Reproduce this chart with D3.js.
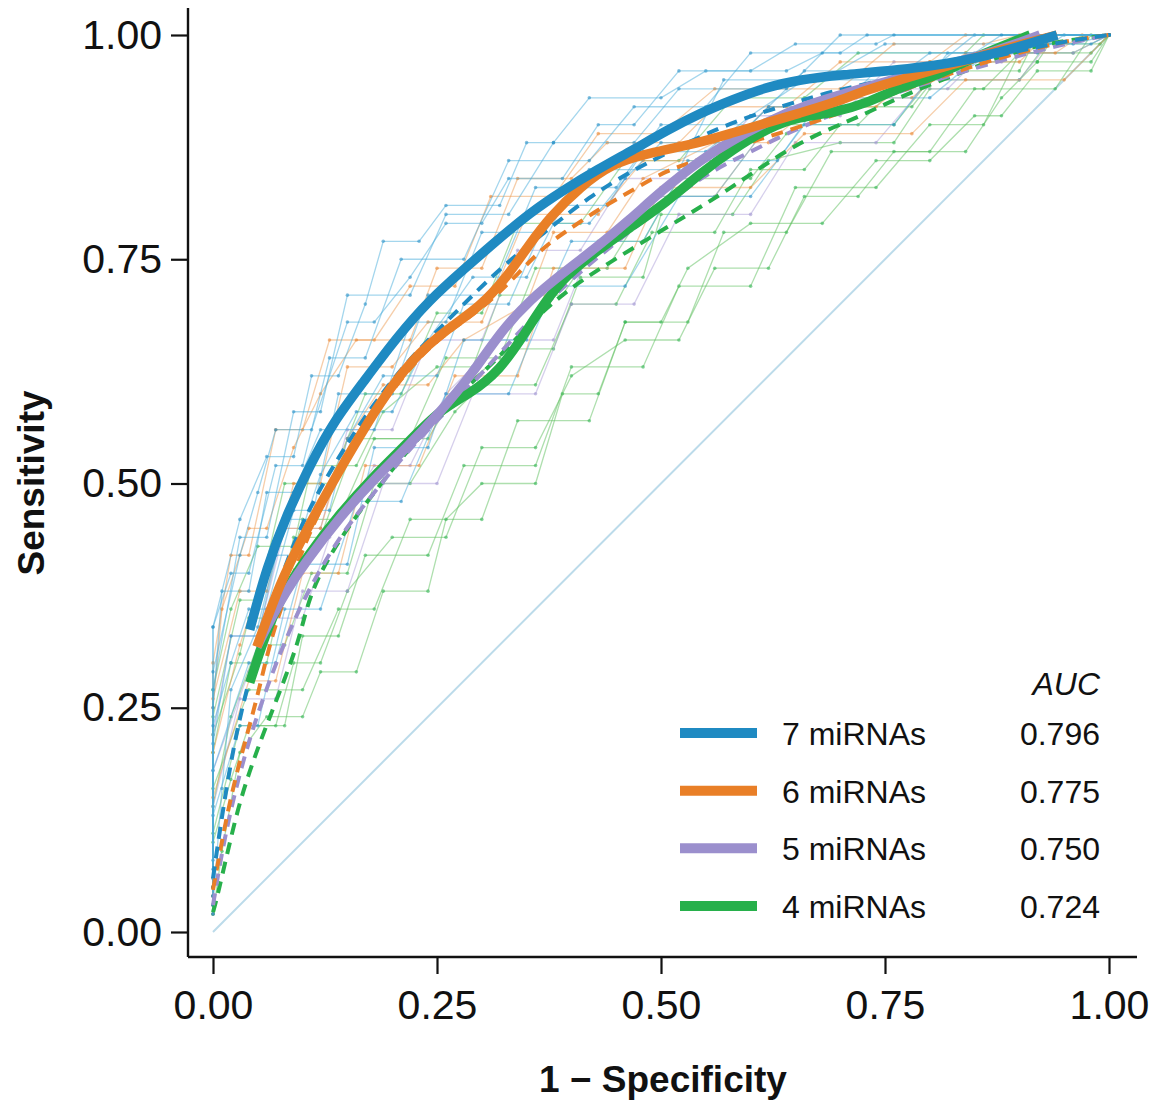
<!DOCTYPE html>
<html lang="en">
<head>
<meta charset="utf-8" />
<title>ROC curves, 4 to 7 miRNAs</title>
<script src="https://d3js.org/d3.v7.min.js"></script>
<style>
  body { margin: 0; background: #fff; }
  text { font-family: "Liberation Sans", Arial, sans-serif; }
</style>
</head>
<body>
<script>
// legend / model info
var models = ["7 miRNAs", "6 miRNAs", "5 miRNAs", "4 miRNAs"];
var aucs = ["0.796", "0.775", "0.750", "0.724"];
var colors = ["#1f8ac2", "#e97f27", "#9b8fcd", "#27b04b"];
var thinColors = ["#4aaedc", "#ee9e55", "#ad9fd9", "#5dbf5d"];
var ticks = [0, 0.25, 0.5, 0.75, 1];

// smoothed ROC curves (thick), [1 - specificity, sensitivity]
var smooth7 = [[0.041,0.337],[0.060,0.407],[0.083,0.467],[0.108,0.520],[0.134,0.568],[0.167,0.612],
  [0.205,0.663],[0.242,0.705],[0.279,0.738],[0.317,0.771],[0.354,0.802],[0.391,0.827],[0.429,0.850],
  [0.469,0.872],[0.507,0.894],[0.544,0.913],[0.580,0.928],[0.618,0.942],[0.655,0.950],[0.692,0.955],
  [0.804,0.964],[0.878,0.980],[0.942,1.0]];
var smooth6 = [[0.049,0.318],[0.075,0.390],[0.100,0.440],[0.127,0.490],[0.156,0.540],[0.186,0.590],
  [0.223,0.640],[0.261,0.672],[0.298,0.697],[0.328,0.730],[0.354,0.768],[0.376,0.797],[0.410,0.831],
  [0.446,0.857],[0.484,0.868],[0.544,0.880],[0.580,0.891],[0.618,0.902],[0.655,0.913],[0.692,0.924],
  [0.730,0.939],[0.767,0.950],[0.804,0.961],[0.842,0.972],[0.878,0.983],[0.942,1.0]];
var smooth5 = [[0.049,0.318],[0.075,0.370],[0.105,0.415],[0.142,0.463],[0.179,0.504],[0.217,0.541],
  [0.253,0.579],[0.290,0.623],[0.320,0.668],[0.354,0.705],[0.391,0.735],[0.429,0.764],[0.465,0.794],
  [0.499,0.825],[0.544,0.861],[0.580,0.883],[0.618,0.903],[0.655,0.920],[0.730,0.942],[0.804,0.963],
  [0.878,0.983],[0.923,1.0]];
var smooth4 = [[0.041,0.278],[0.058,0.330],[0.075,0.372],[0.105,0.419],[0.142,0.467],[0.179,0.508],
  [0.217,0.545],[0.253,0.582],[0.287,0.600],[0.320,0.626],[0.346,0.664],[0.371,0.703],[0.393,0.731],
  [0.429,0.760],[0.465,0.785],[0.507,0.814],[0.544,0.846],[0.580,0.872],[0.618,0.896],[0.655,0.909],
  [0.692,0.913],[0.730,0.924],[0.767,0.942],[0.804,0.953],[0.842,0.972],[0.912,1.0]];

// mean ROC curves (dashed)
var mean7 = [[0,0.06],[0.01,0.13],[0.025,0.22],[0.045,0.30],[0.07,0.38],[0.10,0.46],[0.14,0.53],
  [0.18,0.59],[0.22,0.64],[0.27,0.69],[0.32,0.74],[0.37,0.78],[0.42,0.82],[0.47,0.85],[0.51,0.87],
  [0.55,0.89],[0.6,0.91],[0.65,0.925],[0.7,0.94],[0.8,0.96],[0.88,0.978],[0.95,0.993],[1,1]];
var mean6 = [[0,0.047],[0.008,0.091],[0.019,0.147],[0.033,0.203],[0.049,0.259],[0.064,0.326],
  [0.083,0.381],[0.108,0.448],[0.142,0.515],[0.175,0.571],[0.220,0.630],[0.253,0.663],[0.298,0.693],
  [0.331,0.724],[0.368,0.763],[0.391,0.779],[0.429,0.805],[0.465,0.825],[0.507,0.850],[0.544,0.861],
  [0.580,0.875],[0.655,0.897],[0.730,0.924],[0.804,0.951],[0.878,0.975],[0.953,0.994],[1,1]];
var mean5 = [[0,0.03],[0.01,0.09],[0.025,0.16],[0.045,0.23],[0.07,0.30],[0.10,0.37],[0.14,0.44],
  [0.18,0.49],[0.22,0.54],[0.27,0.59],[0.32,0.645],[0.37,0.70],[0.42,0.745],[0.47,0.785],[0.51,0.815],
  [0.55,0.845],[0.6,0.87],[0.65,0.895],[0.7,0.915],[0.8,0.948],[0.88,0.972],[0.95,0.99],[1,1]];
var mean4 = [[0,0.022],[0.004,0.036],[0.016,0.088],[0.030,0.147],[0.049,0.203],[0.071,0.259],
  [0.097,0.326],[0.108,0.38],[0.142,0.440],[0.179,0.489],[0.217,0.537],[0.253,0.576],[0.279,0.604],
  [0.317,0.638],[0.354,0.679],[0.391,0.712],[0.429,0.738],[0.465,0.760],[0.507,0.786],[0.544,0.808],
  [0.580,0.831],[0.618,0.857],[0.655,0.880],[0.692,0.897],[0.730,0.913],[0.767,0.931],[0.804,0.946],
  [0.842,0.961],[0.878,0.975],[0.915,0.987],[0.953,0.994],[1,1]];

// individual resampling ROC curves (thin steps)
var folds7 = [
  [[0,0.04],[0,0.21],[0.02,0.33],[0.05,0.33],[0.08,0.46],[0.11,0.46],[0.14,0.6],[0.2,0.6],[0.24,0.71],[0.31,0.71],[0.36,0.83],[0.45,0.83],[0.5,0.9],[0.6,0.9],[0.66,0.96],[0.8,0.96],[0.85,1],[1,1]],
  [[0,0.06],[0,0.27],[0.03,0.44],[0.06,0.44],[0.09,0.58],[0.12,0.58],[0.15,0.71],[0.22,0.71],[0.26,0.8],[0.33,0.8],[0.38,0.88],[0.47,0.88],[0.52,0.94],[0.64,0.94],[0.7,1],[1,1]],
  [[0,0.02],[0,0.13],[0.03,0.23],[0.05,0.23],[0.08,0.36],[0.12,0.36],[0.16,0.48],[0.21,0.48],[0.26,0.6],[0.33,0.6],[0.38,0.72],[0.46,0.72],[0.52,0.82],[0.6,0.82],[0.66,0.9],[0.76,0.9],[0.82,0.98],[0.9,0.98],[0.93,1],[1,1]],
  [[0,0.08],[0,0.34],[0.02,0.4],[0.04,0.4],[0.07,0.52],[0.1,0.52],[0.13,0.64],[0.17,0.64],[0.21,0.75],[0.28,0.75],[0.33,0.86],[0.42,0.86],[0.47,0.92],[0.55,0.92],[0.6,0.98],[0.7,0.98],[0.73,1],[1,1]],
  [[0,0.03],[0,0.18],[0.04,0.3],[0.07,0.3],[0.1,0.41],[0.15,0.41],[0.18,0.54],[0.24,0.54],[0.28,0.66],[0.35,0.66],[0.4,0.77],[0.48,0.77],[0.53,0.86],[0.63,0.86],[0.68,0.93],[0.8,0.93],[0.86,0.98],[0.92,0.98],[0.95,1],[1,1]],
  [[0,0.05],[0,0.25],[0.01,0.38],[0.04,0.38],[0.06,0.49],[0.09,0.49],[0.12,0.56],[0.18,0.56],[0.22,0.68],[0.26,0.68],[0.3,0.78],[0.37,0.78],[0.42,0.85],[0.52,0.85],[0.57,0.95],[0.68,0.95],[0.75,0.99],[0.98,0.99],[1,1]],
  [[0,0.07],[0,0.34],[0.03,0.46],[0.06,0.53],[0.09,0.53],[0.11,0.62],[0.14,0.62],[0.17,0.7],[0.19,0.77],[0.23,0.77],[0.26,0.81],[0.32,0.81],[0.35,0.88],[0.38,0.88],[0.42,0.93],[0.5,0.93],[0.55,0.96],[0.6,0.96],[0.65,0.99],[0.74,0.99],[0.76,1],[1,1]],
  [[0,0.04],[0,0.23],[0.02,0.3],[0.04,0.36],[0.06,0.36],[0.09,0.47],[0.13,0.47],[0.15,0.55],[0.19,0.62],[0.25,0.62],[0.28,0.7],[0.33,0.7],[0.37,0.79],[0.42,0.79],[0.46,0.84],[0.5,0.88],[0.58,0.88],[0.62,0.92],[0.7,0.92],[0.74,0.96],[0.84,0.96],[0.88,0.99],[0.96,0.99],[1,1]],
  [[0,0.03],[0.01,0.16],[0.02,0.27],[0.05,0.34],[0.07,0.42],[0.09,0.42],[0.12,0.51],[0.16,0.58],[0.2,0.58],[0.24,0.66],[0.29,0.73],[0.35,0.73],[0.39,0.81],[0.44,0.81],[0.48,0.87],[0.55,0.87],[0.6,0.91],[0.66,0.95],[0.76,0.95],[0.8,0.98],[0.9,0.98],[0.94,1],[1,1]],
  [[0,0.05],[0,0.29],[0.03,0.42],[0.05,0.49],[0.07,0.56],[0.11,0.56],[0.15,0.68],[0.18,0.68],[0.22,0.73],[0.26,0.79],[0.3,0.79],[0.33,0.84],[0.39,0.84],[0.43,0.9],[0.47,0.9],[0.52,0.96],[0.64,0.96],[0.68,0.98],[0.85,0.98],[0.88,1],[1,1]]
];
var folds6 = [
  [[0,0.05],[0,0.26],[0.03,0.38],[0.06,0.38],[0.09,0.5],[0.12,0.5],[0.15,0.63],[0.2,0.63],[0.24,0.68],[0.3,0.68],[0.35,0.8],[0.43,0.8],[0.48,0.86],[0.56,0.86],[0.62,0.92],[0.74,0.92],[0.8,0.97],[0.9,0.97],[0.93,1],[1,1]],
  [[0,0.03],[0,0.15],[0.04,0.28],[0.07,0.28],[0.1,0.4],[0.14,0.4],[0.17,0.52],[0.23,0.52],[0.27,0.62],[0.34,0.62],[0.38,0.74],[0.46,0.74],[0.5,0.83],[0.6,0.83],[0.66,0.89],[0.78,0.89],[0.84,0.95],[0.95,0.95],[1,1]],
  [[0,0.06],[0,0.3],[0.02,0.42],[0.04,0.42],[0.07,0.56],[0.1,0.56],[0.13,0.66],[0.18,0.66],[0.22,0.72],[0.27,0.72],[0.31,0.82],[0.38,0.82],[0.43,0.89],[0.5,0.89],[0.56,0.94],[0.7,0.94],[0.76,0.99],[0.86,0.99],[0.9,1],[1,1]],
  [[0,0.04],[0,0.2],[0.03,0.32],[0.05,0.38],[0.08,0.45],[0.12,0.45],[0.15,0.55],[0.19,0.61],[0.24,0.61],[0.28,0.66],[0.35,0.7],[0.38,0.78],[0.44,0.78],[0.48,0.84],[0.56,0.88],[0.62,0.88],[0.68,0.93],[0.78,0.93],[0.84,0.98],[0.94,0.98],[0.97,1],[1,1]],
  [[0,0.05],[0,0.25],[0.01,0.36],[0.04,0.45],[0.06,0.45],[0.09,0.54],[0.12,0.6],[0.16,0.66],[0.22,0.66],[0.25,0.74],[0.3,0.74],[0.34,0.84],[0.4,0.84],[0.44,0.88],[0.52,0.88],[0.56,0.92],[0.64,0.92],[0.7,0.97],[0.8,0.97],[0.84,1],[1,1]]
];
var folds5 = [
  [[0,0.02],[0,0.14],[0.03,0.26],[0.07,0.26],[0.1,0.38],[0.15,0.38],[0.19,0.5],[0.25,0.5],[0.29,0.6],[0.36,0.6],[0.4,0.7],[0.47,0.7],[0.52,0.8],[0.6,0.8],[0.65,0.88],[0.74,0.88],[0.8,0.95],[0.9,0.95],[0.94,1],[1,1]],
  [[0,0.04],[0,0.22],[0.02,0.33],[0.05,0.33],[0.08,0.45],[0.12,0.45],[0.15,0.56],[0.2,0.56],[0.24,0.66],[0.3,0.66],[0.34,0.76],[0.41,0.76],[0.46,0.84],[0.54,0.84],[0.6,0.91],[0.7,0.91],[0.76,0.97],[0.88,0.97],[0.92,1],[1,1]],
  [[0,0.03],[0,0.18],[0.04,0.29],[0.06,0.35],[0.1,0.35],[0.13,0.44],[0.18,0.52],[0.22,0.52],[0.26,0.6],[0.32,0.66],[0.38,0.66],[0.42,0.76],[0.5,0.82],[0.56,0.82],[0.62,0.9],[0.72,0.94],[0.82,0.94],[0.86,0.98],[0.96,0.98],[1,1]]
];
var folds4 = [
  [[0,0.02],[0,0.11],[0.03,0.23],[0.08,0.23],[0.1,0.33],[0.14,0.33],[0.17,0.42],[0.24,0.42],[0.28,0.52],[0.36,0.52],[0.4,0.63],[0.48,0.63],[0.52,0.72],[0.6,0.72],[0.65,0.83],[0.74,0.83],[0.8,0.9],[0.86,0.9],[0.9,0.98],[0.98,0.98],[1,1]],
  [[0,0.04],[0,0.2],[0.02,0.3],[0.06,0.3],[0.09,0.44],[0.12,0.44],[0.16,0.55],[0.22,0.55],[0.26,0.64],[0.32,0.64],[0.36,0.74],[0.44,0.74],[0.49,0.82],[0.56,0.82],[0.62,0.9],[0.72,0.9],[0.78,0.96],[0.9,0.96],[0.92,1],[1,1]],
  [[0,0.03],[0,0.16],[0.04,0.27],[0.1,0.27],[0.14,0.36],[0.18,0.36],[0.22,0.46],[0.3,0.46],[0.34,0.57],[0.42,0.57],[0.46,0.68],[0.53,0.68],[0.57,0.78],[0.64,0.78],[0.69,0.87],[0.8,0.87],[0.85,0.94],[0.94,0.94],[0.98,1],[1,1]],
  [[0,0.05],[0,0.24],[0.03,0.37],[0.05,0.37],[0.08,0.5],[0.13,0.5],[0.17,0.6],[0.21,0.6],[0.25,0.69],[0.3,0.69],[0.34,0.79],[0.41,0.79],[0.46,0.86],[0.52,0.86],[0.58,0.93],[0.66,0.93],[0.72,0.98],[0.84,0.98],[0.86,1],[1,1]],
  [[0,0.02],[0.01,0.09],[0.03,0.2],[0.06,0.24],[0.1,0.24],[0.12,0.29],[0.16,0.29],[0.19,0.38],[0.24,0.38],[0.26,0.46],[0.3,0.5],[0.36,0.5],[0.39,0.6],[0.43,0.6],[0.46,0.68],[0.5,0.68],[0.53,0.74],[0.6,0.79],[0.68,0.79],[0.74,0.86],[0.8,0.86],[0.85,0.91],[0.88,0.91],[0.92,0.96],[0.98,0.96],[1,1]],
  [[0,0.03],[0,0.14],[0.02,0.24],[0.05,0.32],[0.08,0.32],[0.11,0.4],[0.15,0.4],[0.18,0.5],[0.22,0.5],[0.27,0.58],[0.3,0.61],[0.36,0.61],[0.4,0.7],[0.45,0.7],[0.49,0.78],[0.56,0.78],[0.6,0.85],[0.66,0.85],[0.7,0.9],[0.76,0.9],[0.8,0.95],[0.9,0.95],[0.93,0.99],[0.99,0.99],[1,1]],
  [[0,0.04],[0,0.22],[0.03,0.31],[0.04,0.35],[0.07,0.35],[0.1,0.46],[0.14,0.46],[0.18,0.55],[0.24,0.55],[0.27,0.6],[0.33,0.65],[0.38,0.65],[0.41,0.73],[0.48,0.73],[0.5,0.8],[0.58,0.8],[0.62,0.86],[0.7,0.88],[0.76,0.88],[0.8,0.94],[0.86,0.94],[0.9,0.98],[0.96,0.98],[1,1]],
  [[0,0.02],[0,0.1],[0.02,0.17],[0.04,0.23],[0.07,0.23],[0.09,0.3],[0.12,0.3],[0.15,0.38],[0.2,0.44],[0.26,0.44],[0.3,0.54],[0.36,0.54],[0.4,0.62],[0.46,0.66],[0.52,0.66],[0.56,0.74],[0.62,0.74],[0.66,0.82],[0.72,0.82],[0.76,0.87],[0.84,0.87],[0.88,0.93],[0.92,0.97],[0.98,0.97],[1,1]],
  [[0,0.05],[0,0.27],[0.02,0.36],[0.05,0.43],[0.09,0.43],[0.11,0.52],[0.16,0.52],[0.19,0.58],[0.25,0.63],[0.29,0.63],[0.32,0.71],[0.39,0.71],[0.43,0.77],[0.48,0.77],[0.52,0.84],[0.6,0.84],[0.64,0.89],[0.7,0.92],[0.78,0.92],[0.82,0.97],[0.92,0.97],[0.94,1],[1,1]]
];

var smoothAll = [smooth7, smooth6, smooth5, smooth4];
var meanAll = [mean7, mean6, mean5, mean4];
var foldsAll = [folds7, folds6, folds5, folds4];

var W = 1163, H = 1102;
var svg = d3.select("body").append("svg")
    .attr("width", W)
    .attr("height", H);

var x = d3.scaleLinear().domain([0, 1]).range([213, 1109]);
var y = d3.scaleLinear().domain([0, 1]).range([932, 35]);

var line = d3.line()
    .x(function(d) { return x(d[0]); })
    .y(function(d) { return y(d[1]); });
var smoothLine = d3.line()
    .x(function(d) { return x(d[0]); })
    .y(function(d) { return y(d[1]); })
    .curve(d3.curveBasis);

// chance line
svg.append("path")
    .datum([[0, 0], [1, 1]])
    .attr("d", line)
    .attr("fill", "none")
    .attr("stroke", "#bcdbea")
    .attr("stroke-width", 2);

// thin resample curves, drawn from last model to first
for (var m = 3; m >= 0; m--) {
  var g = svg.append("g");
  foldsAll[m].forEach(function(f) {
    g.append("path")
        .datum(f)
        .attr("d", line)
        .attr("fill", "none")
        .attr("stroke", thinColors[m])
        .attr("stroke-opacity", 0.5)
        .attr("stroke-width", 1.3);
    g.selectAll(null)
        .data(f)
        .enter()
        .append("circle")
        .attr("cx", function(d) { return x(d[0]); })
        .attr("cy", function(d) { return y(d[1]); })
        .attr("r", 1.8)
        .attr("fill", colors[m])
        .attr("fill-opacity", 0.55);
  });
}

// dashed mean curves
for (var m = 3; m >= 0; m--) {
  svg.append("path")
      .datum(meanAll[m])
      .attr("d", smoothLine)
      .attr("fill", "none")
      .attr("stroke", colors[m])
      .attr("stroke-width", 4)
      .attr("stroke-dasharray", "12,8");
}

// thick smoothed curves
for (var m = 3; m >= 0; m--) {
  svg.append("path")
      .datum(smoothAll[m])
      .attr("d", smoothLine)
      .attr("fill", "none")
      .attr("stroke", colors[m])
      .attr("stroke-width", 9.5);
}

// axes
var xAxis = svg.append("g")
    .attr("transform", "translate(0,957)")
    .call(d3.axisBottom(x).tickValues(ticks).tickFormat(d3.format(".2f")).tickSize(17).tickPadding(16));
var yAxis = svg.append("g")
    .attr("transform", "translate(188,0)")
    .call(d3.axisLeft(y).tickValues(ticks).tickFormat(d3.format(".2f")).tickSize(17).tickPadding(9));
[xAxis, yAxis].forEach(function(a) {
  a.select(".domain").remove();
  a.selectAll("line").attr("stroke", "#111").attr("stroke-width", 2.2);
  a.selectAll("text")
      .attr("fill", "#111")
      .style("font-family", "'Liberation Sans', Arial, sans-serif")
      .style("font-size", "41px");
});
svg.append("line").attr("x1", 188).attr("x2", 1137).attr("y1", 957).attr("y2", 957)
    .attr("stroke", "#111").attr("stroke-width", 2.4);
svg.append("line").attr("x1", 188).attr("x2", 188).attr("y1", 8).attr("y2", 957)
    .attr("stroke", "#111").attr("stroke-width", 2.4);

// axis titles
svg.append("text")
    .attr("x", 663)
    .attr("y", 1092)
    .attr("text-anchor", "middle")
    .attr("font-size", "37px")
    .attr("font-weight", "bold")
    .attr("fill", "#111")
    .text("1 \u2212 Specificity");
svg.append("text")
    .attr("transform", "translate(44,483) rotate(-90)")
    .attr("text-anchor", "middle")
    .attr("font-size", "37px")
    .attr("font-weight", "bold")
    .attr("fill", "#111")
    .text("Sensitivity");

// legend
var ly = d3.scaleLinear().domain([0, 3]).range([733, 906]);
svg.append("text")
    .attr("x", 1100)
    .attr("y", 695)
    .attr("text-anchor", "end")
    .attr("font-size", "32px")
    .attr("font-style", "italic")
    .attr("fill", "#111")
    .text("AUC");
var leg = svg.selectAll("g.legend")
    .data(models)
    .enter()
    .append("g")
    .attr("class", "legend")
    .attr("transform", function(d, i) { return "translate(0," + ly(i) + ")"; });
leg.append("line")
    .attr("x1", 680).attr("x2", 757)
    .attr("stroke", function(d, i) { return colors[i]; })
    .attr("stroke-width", 10);
leg.append("text")
    .attr("x", 782)
    .attr("y", 12)
    .attr("font-size", "32px")
    .attr("fill", "#111")
    .text(function(d) { return d; });
leg.append("text")
    .attr("x", 1100)
    .attr("y", 12)
    .attr("text-anchor", "end")
    .attr("font-size", "32px")
    .attr("fill", "#111")
    .text(function(d, i) { return aucs[i]; });
</script>
</body>
</html>
